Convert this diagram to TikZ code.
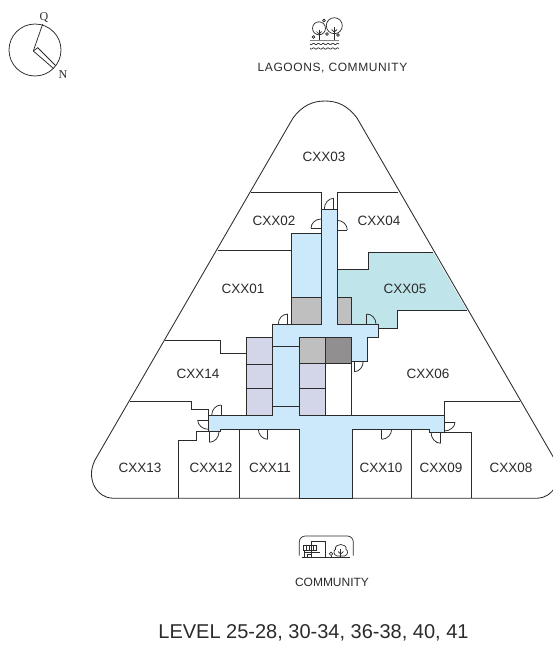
\documentclass[tikz,border=0pt]{standalone}
\usepackage{fontspec}
\setmainfont{Liberation Sans}
\newfontfamily\serifx{Liberation Serif}
\usetikzlibrary{calc}
\definecolor{ink}{HTML}{2B2B2B}
\definecolor{corr}{HTML}{CBE9FA}
\definecolor{teal5}{HTML}{BFE5EA}
\definecolor{greyA}{HTML}{BFBFBF}
\definecolor{greyB}{HTML}{918F90}
\definecolor{lav}{HTML}{D3D5E9}
\tikzset{
  wall/.style={draw=ink,line width=1pt,line join=miter},
  outline/.style={draw=ink,line width=0.85pt},
  doorline/.style={draw=ink,line width=0.75pt},
  unitlabel/.style={font=\fontsize{13.5}{15}\selectfont,text=ink,inner sep=0pt},
  iconline/.style={draw=ink,line width=0.7pt},
  caption/.style={font=\fontsize{12}{14}\selectfont,text=ink,inner sep=0pt},
  compassline/.style={draw=ink,line width=0.75pt},
  compasslabel/.style={font=\serifx\fontsize{12}{14}\selectfont,text=ink,inner sep=0pt},
}
% hinge, leaf end, arc end
\newcommand{\doorat}[3]{%
  \draw[doorline] (#2) -- (#1);
  \draw[doorline] (#2) .. controls ($(#2)+0.55*(#3)-0.55*(#1)$) and ($(#3)+0.55*(#2)-0.55*(#1)$) .. (#3);
}
\begin{document}
\begin{tikzpicture}[x=1pt,y=-1pt]
\useasboundingbox (0,0) rectangle (552,648);
\fill[white] (0,0) rectangle (552,648);

% outer shape
\draw[outline] (113,498.3) -- (537,498.3)
  .. controls (552,498.3) and (565,480) .. (555,460)
  -- (357,118) .. controls (348,106) and (338,101) .. (325,101)
  .. controls (312,101) and (302,106) .. (293,118)
  -- (95,460) .. controls (85,480) and (98,498.3) .. (113,498.3) -- cycle;

% teal unit
\fill[teal5] (337,269.3) -- (368,269.3) -- (368,252) -- (433,252) -- (466.7,310) -- (397,310) -- (397,328.7) -- (378,328.7) -- (337,324) -- cycle;
\draw[wall] (337,269.3) -- (368,269.3) -- (368,252) -- (433,252);
\draw[wall] (466.7,310) -- (397,310) -- (397,328.7) -- (378,328.7);

% unit partitions
\draw[wall] (251,192.7) -- (321.5,192.7) -- (321.5,209);
\draw[wall] (398,192.7) -- (337,192.7) -- (337,209);
\draw[wall] (217.7,250) -- (291,250);
\draw[wall] (165,340) -- (220.7,340) -- (220.7,353.3) -- (246.3,353.3);
\draw[wall] (130,401.7) -- (191.7,401.7) -- (191.7,409) -- (208.3,409) -- (208.3,415.3);
\draw[wall] (178.7,498.3) -- (178.7,440) -- (196,440) -- (196,431.7) -- (208.3,431.7);
\draw[wall] (239,429) -- (239,498.3);
\draw[wall] (411,429) -- (411,498.3);
\draw[wall] (444.3,415.3) -- (444.3,401.7) -- (520,401.7);
\draw[wall] (444.3,432.7) -- (471,432.7) -- (471,498.3);
\draw[wall] (351.5,361) -- (351.5,415.3);

% core rooms
\draw[wall,fill=corr] (291,233) rectangle (321.5,297);
\draw[wall,fill=greyA] (291,297) rectangle (321.5,324);
\draw[wall,fill=greyA] (337,297) rectangle (351.5,324);

% corridors
\draw[wall,fill=corr] (272.7,324) -- (321.5,324) -- (321.5,209) -- (337,209) -- (337,324)
  -- (378,324) -- (378,337) -- (367,337) -- (367,361) -- (351.5,361) -- (351.5,337)
  -- (299,337) -- (299,415.3) -- (444.3,415.3) -- (444.3,432.3) -- (429.3,432.3) -- (429.3,429)
  -- (352,429) -- (352,498.3) -- (299,498.3) -- (299,429) -- (220.7,429) -- (220.7,431)
  -- (208.3,431) -- (208.3,415.3) -- (272.7,415.3) -- cycle;
\draw[wall] (272.7,346) -- (299,346);
\draw[wall] (272.7,406) -- (299,406);

% service rooms
\draw[wall,fill=lav] (246.3,337.7) rectangle (272.7,364);
\draw[wall,fill=lav] (246.3,364) rectangle (272.7,388.5);
\draw[wall,fill=lav] (246.3,388.5) rectangle (272.7,415.3);
\draw[wall,fill=greyA] (299,337.7) rectangle (325.3,363.7);
\draw[wall,fill=greyB] (325.3,337.7) rectangle (351.5,363.7);
\draw[wall,fill=lav] (299,363.7) rectangle (325.3,388.5);
\draw[wall,fill=lav] (299,388.5) rectangle (325.3,415.3);

% doors
\doorat{333.7,209}{333.7,198.3}{324.3,209}
\doorat{321,228.3}{311,228.3}{321,219}
\doorat{337,230}{347.3,230}{337,220.3}
\doorat{287.7,324}{287.7,314}{278.3,324}
\doorat{366.7,324}{366.7,314}{376,324}
\doorat{354.3,361}{354.3,371.7}{363.3,361}
\doorat{221,415.3}{221,405}{211.7,415.3}
\doorat{208.3,420}{197.7,420}{208.3,429.3}
\doorat{209.3,431.7}{209.3,442.3}{219,431.7}
\doorat{267.7,429}{267.7,439.3}{258.3,429}
\doorat{381.7,429}{381.7,439.3}{391.7,429}
\doorat{440.7,432.3}{440.7,443.3}{431,432.3}
\doorat{444.3,422}{455,422}{444.3,431}

% unit labels
\node[unitlabel] (u03) at (324,157) {CXX03};
\node[unitlabel] (u02) at (274,221) {CXX02};
\node[unitlabel] (u04) at (379,221) {CXX04};
\node[unitlabel] (u01) at (243,289) {CXX01};
\node[unitlabel] (u05) at (405,289) {CXX05};
\node[unitlabel] (u14) at (198,374) {CXX14};
\node[unitlabel] (u06) at (428,374) {CXX06};
\node[unitlabel] (u13) at (140,468) {CXX13};
\node[unitlabel] (u12) at (211,468) {CXX12};
\node[unitlabel] (u11) at (270,468) {CXX11};
\node[unitlabel] (u10) at (381,468) {CXX10};
\node[unitlabel] (u09) at (441,468) {CXX09};
\node[unitlabel] (u08) at (511,468) {CXX08};

% compass
\draw[compassline] (35,50) circle (26);
\draw[compassline] (42.7,24) -- (33.3,51) -- (53.3,68.3);
\draw[compassline] (33.3,51) -- (37.7,47.7) -- (55.5,65.5);
\node[compasslabel] (cq) at (44,17) {Q};
\node[compasslabel] (cn) at (63,75) {N};

% lagoon icon
\draw[iconline] (334.3,25.7) circle (8);
\draw[iconline] (319,28.3) circle (6.5);
\draw[iconline] (334.3,27) -- (334.3,40.5);
\draw[iconline] (319,30) -- (319,40.5);
\draw[iconline] (334.3,32) -- (331.5,29.5) (334.3,32) -- (337.1,29.5);
\draw[iconline] (319,34) -- (316.5,31.5) (319,34) -- (321.5,31.5);
\draw[draw=ink!60,line width=1pt] (310,40.7) -- (339,40.7);
\draw[iconline] (324,20.5) circle (1.4);
\draw[iconline] (313.5,37) circle (1.4);
\draw[iconline] (327,34) circle (1.4);
\draw[iconline] (338,35) circle (1.4);
\foreach \wy in {44,48.5}{
  \draw[iconline] plot[domain=0:29,samples=40,smooth] ({310+\x},{\wy+0.7*sin(\x*75)});
}
\node[caption] (capa) at (332.5,68) {\addfontfeature{LetterSpace=5}LAGOONS, COMMUNITY};

% community icon
\draw[iconline,rounded corners=6pt] (299.3,555.5) -- (299.3,536) -- (353.3,536) -- (353.3,555.5);
\draw[draw=ink,line width=0.9pt] (302,557.8) -- (350,557.8);
\draw[iconline] (311.7,557.8) -- (311.7,541.7) -- (325,541.7) -- (325,557.8);
\draw[iconline] (303,545) rectangle (316,550);
\draw[iconline] (306,545) -- (306,550) (309.5,545) -- (309.5,550) (313,545) -- (313,550);
\draw[iconline] (304,550) -- (304,557.8);
\draw[iconline] (304,552.5) -- (320,552.5);
\draw[iconline] (307,554.5) rectangle (311,557.8);
\draw[iconline] (331,557.8) -- (331,555.5);
\draw[iconline] (331,553.8) circle (1.7);
\draw[iconline] (340.7,557.8) -- (340.7,549);
\draw[iconline] (340.7,554) -- (338,551.5) (340.7,554) -- (343.4,551.5);
\draw[iconline] (337,556) .. controls (333,555) and (333.5,550) .. (335.5,549.5)
  .. controls (334.5,546) and (338.5,544.5) .. (340.7,544.5) .. controls (343,544.5) and (347,546) .. (346,549.5)
  .. controls (348,550) and (348.5,555) .. (344.5,556) -- cycle;
\node[caption] (capb) at (332,582) {COMMUNITY};

\node[font=\fontsize{20}{22}\selectfont,text=ink,inner sep=0pt] (level) at (313.5,633) {LEVEL 25-28, 30-34, 36-38, 40, 41};
\end{tikzpicture}
\end{document}
